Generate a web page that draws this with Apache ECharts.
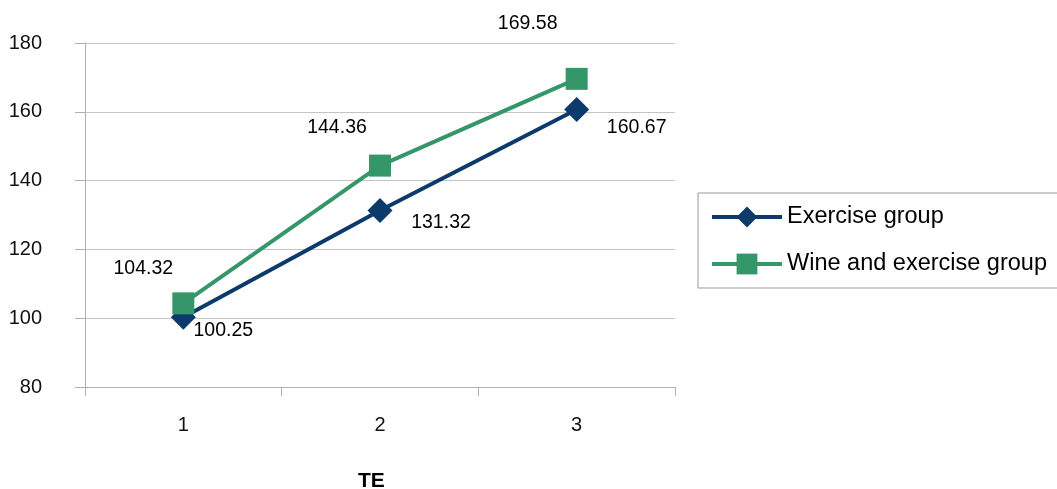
<!DOCTYPE html>
<html>
<head>
<meta charset="utf-8">
<script src="https://cdn.jsdelivr.net/npm/echarts@6/dist/echarts.min.js"></script>
<style>
  html, body { margin: 0; padding: 0; background: #fff; }
  #main { width: 1057px; height: 489px; }
</style>
</head>
<body>
<div id="main"></div>
<script>
var categories = ['1', '2', '3'];
var exerciseValues = [100.25, 131.32, 160.67];
var wineValues = [104.32, 144.36, 169.58];
var yTicks = { min: 80, max: 180, step: 20 };

// label offsets per point (px, from the marker centre)
var exerciseOffsets = [[40, 13], [61, 12], [60, 18]];
var wineOffsets = [[-40, -35], [-43, -38], [-49, -55]];

var FONT = 'Liberation Sans, Arial, sans-serif';

function fnBuildData(values, offsets) {
  return values.map(function(v, i) {
    return {
      value: v,
      label: { offset: offsets[i] }
    };
  });
}

var chart = echarts.init(document.getElementById('main'));
chart.setOption({
  animation: false,
  textStyle: { fontFamily: FONT },
  title: {
    text: 'TE',
    left: 353,
    top: 466,
    textStyle: { fontSize: 21, fontWeight: 'bold', color: '#000', fontFamily: FONT }
  },
  legend: {
    orient: 'vertical',
    left: 698,
    top: 193,
    padding: [12, 14, 12, 12],
    itemWidth: 70,
    itemHeight: 26,
    itemGap: 23,
    borderColor: '#999',
    borderWidth: 1,
    lineStyle: { width: 4 },
    textStyle: { fontSize: 23.5, color: '#000', fontFamily: FONT }
  },
  grid: { left: 85, right: 382, top: 43, bottom: 102 },
  xAxis: {
    type: 'category',
    data: categories,
    boundaryGap: true,
    axisLine: { lineStyle: { color: '#b0b0b0', width: 1 } },
    axisTick: { show: true, length: 9, lineStyle: { color: '#b0b0b0' } },
    axisLabel: { margin: 28, fontSize: 20, color: '#111', fontFamily: FONT }
  },
  yAxis: {
    type: 'value',
    min: yTicks.min,
    max: yTicks.max,
    interval: yTicks.step,
    axisLine: { show: true, lineStyle: { color: '#b0b0b0', width: 1 } },
    axisTick: { show: true, length: 10, lineStyle: { color: '#b0b0b0' } },
    axisLabel: { margin: 43, fontSize: 20, color: '#111', fontFamily: FONT },
    splitLine: { lineStyle: { color: '#c4c4c4', width: 1 } }
  },
  series: [
    {
      name: 'Exercise group',
      type: 'line',
      data: fnBuildData(exerciseValues, exerciseOffsets),
      symbol: 'diamond',
      symbolSize: 25,
      lineStyle: { color: '#0b3a6b', width: 4 },
      itemStyle: { color: '#0b3a6b' },
      label: {
        show: true,
        position: 'inside',
        fontSize: 19.5,
        color: '#000',
        fontFamily: FONT,
        formatter: function(p) { return p.value.toFixed(2); }
      },
      z: 2
    },
    {
      name: 'Wine and exercise group',
      type: 'line',
      data: fnBuildData(wineValues, wineOffsets),
      symbol: 'rect',
      symbolSize: 22,
      lineStyle: { color: '#35966a', width: 4 },
      itemStyle: { color: '#35966a' },
      label: {
        show: true,
        position: 'inside',
        fontSize: 19.5,
        color: '#000',
        fontFamily: FONT,
        formatter: function(p) { return p.value.toFixed(2); }
      },
      z: 3
    }
  ]
});
</script>
</body>
</html>
